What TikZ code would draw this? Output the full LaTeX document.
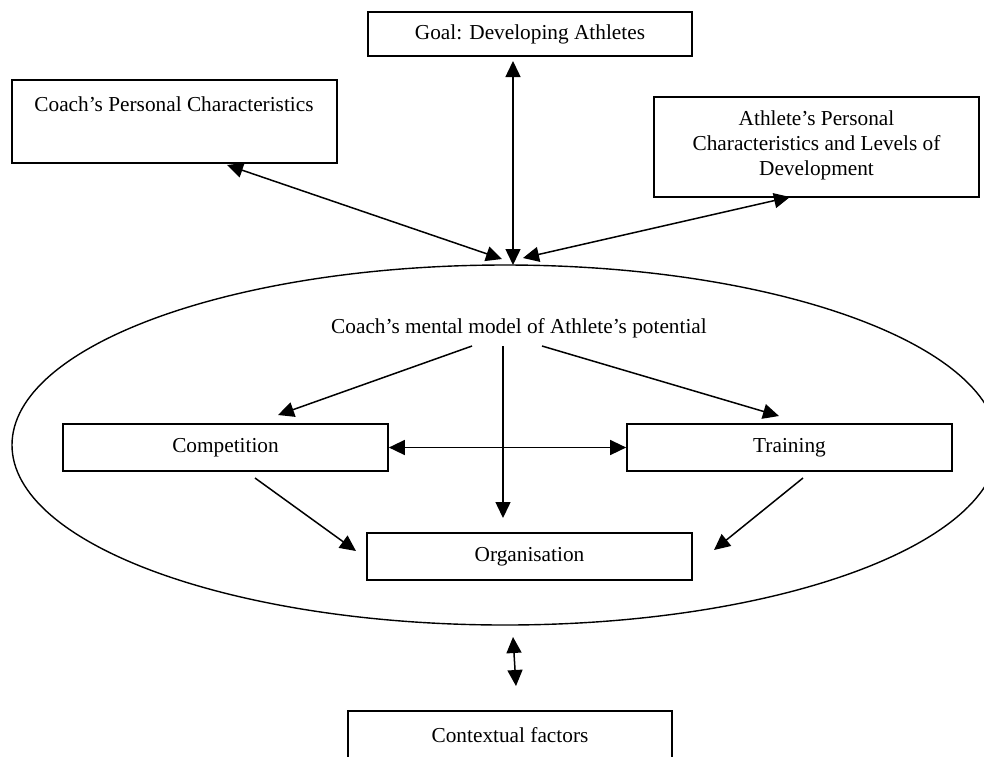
\documentclass[tikz,border=0pt]{standalone}
\usepackage{fontspec}
\setmainfont{Liberation Serif}
\usetikzlibrary{arrows.meta,shapes.geometric,calc}
\tikzset{
  box/.style={draw, line width=1.7pt, rectangle, inner sep=0pt, align=center},
  txt/.style={inner sep=0pt, align=center, font=\fontsize{21.3}{25}\selectfont},
  conn/.style={line width=1.5pt, -{Triangle[length=16pt,width=15pt]}},
  conn2/.style={line width=1.5pt, {Triangle[length=16pt,width=15pt]}-{Triangle[length=16pt,width=15pt]}}
}
\begin{document}
\begin{tikzpicture}[x=1pt,y=-1pt]
\useasboundingbox (0,0) rectangle (984,756);
\clip (0,0) rectangle (984,756);
\fill[white] (0,0) rectangle (984,756);

% boxes
\node[box, minimum width=324, minimum height=44] (goal) at (530,34) {};
\node[txt] (goalt) at (530,34) {Goal: Developing Athletes};

\node[box, minimum width=325, minimum height=83] (coach) at (174.5,121.5) {};
\node[txt] (coacht) at (174,104) {Coach’s Personal Characteristics};

\node[box, minimum width=325, minimum height=100] (ath) at (816.5,147) {};
\node[txt] (atht) at (816.5,145) {Athlete’s Personal\\Characteristics and Levels of\\Development};

\node[draw, ellipse, line width=1.4pt, inner sep=0pt, minimum width=986, minimum height=360] (ell) at (505,445) {};

\node[txt] (mm) at (519,328) {Coach’s mental model of Athlete’s potential};

\node[box, minimum width=325, minimum height=47] (comp) at (225.5,447.5) {};
\node[txt] (compt) at (225.5,448) {Competition};

\node[box, minimum width=325, minimum height=47] (train) at (789.5,447.5) {};
\node[txt] (traint) at (789.5,448) {Training};

\node[box, minimum width=325, minimum height=47] (org) at (529.5,556.5) {};
\node[txt] (orgt) at (529.5,557) {Organisation};

\node[box, minimum width=324, minimum height=90] (ctx) at (510,756) {};
\node[txt] (ctxt) at (510,735) {Contextual factors};

% connector end points
\coordinate (gA) at (513,61);
\coordinate (gB) at (513,265);
\coordinate (cA) at (227,165);
\coordinate (cB) at (502,259);
\coordinate (aA) at (790,197);
\coordinate (aB) at (523,258);
\coordinate (m1) at (472,346);
\coordinate (m1e) at (278,415);
\coordinate (m2) at (542,346);
\coordinate (m2e) at (779,416);
\coordinate (m3) at (503,346);
\coordinate (m3e) at (503,518);
\coordinate (ct) at (255,478);
\coordinate (cte) at (356,551);
\coordinate (tt) at (803,478);
\coordinate (tte) at (714,550);
\coordinate (eA) at (513,637);
\coordinate (eB) at (516,686);

\draw[conn2] (gA) -- (gB);
\draw[conn2] (cA) -- (cB);
\draw[conn2] (aA) -- (aB);
\draw[conn] (m1) -- (m1e);
\draw[conn] (m2) -- (m2e);
\draw[conn] (m3) -- (m3e);
\draw[conn2] (comp.east) -- (train.west);
\draw[conn] (ct) -- (cte);
\draw[conn] (tt) -- (tte);
\draw[conn2] (eA) -- (eB);
\end{tikzpicture}
\end{document}
